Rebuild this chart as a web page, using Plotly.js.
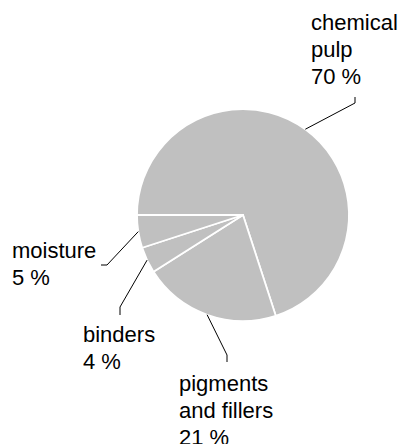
<!DOCTYPE html>
<html>
<head>
<meta charset="utf-8">
<script src="https://cdn.plot.ly/plotly-3.0.1.min.js"></script>
<style>html,body{margin:0;padding:0;background:#fff;}#chart{width:402px;height:444px;}</style>
</head>
<body>
<div id="chart"></div>
<script>
// Data
const categories = ["chemical pulp", "pigments and fillers", "binders", "moisture"];
const shares = [70, 21, 4, 5];
const labelLines = [["chemical", "pulp", "70 %"], ["pigments", "and fillers", "21 %"], ["binders", "4 %"], ["moisture", "5 %"]];

// Layout constants (pixels)
const W = 402, H = 444;
const CX = 243, CY = 215, R = 106;
const ROTATION = 270; // start at 9 o'clock, clockwise
const LINE_H = 27;
// label text box top-left and leader elbow (pixel positions for each label)
const labelPos = [
  {tx: 310, ty: 9,   ex: 355, ey: 103, kx: 355, ky: 97},
  {tx: 178, ty: 370, ex: 227, ey: 355, kx: 227, ky: 362},
  {tx: 82,  ty: 321, ex: 120, ey: 307, kx: 120, ky: 315},
  {tx: 11,  ty: 237, ex: 107, ey: 265, kx: 101, ky: 265}
];

const px = x => x / W;
const py = y => 1 - y / H;

const total = shares.reduce((a, b) => a + b, 0);
let cum = 0;
const shapes = [];
const annotations = [];
shares.forEach((v, i) => {
  const mid = ROTATION + (cum + v / 2) / total * 360;
  cum += v;
  const a = mid * Math.PI / 180;
  const sx = CX + R * Math.sin(a);
  const sy = CY - R * Math.cos(a);
  const p = labelPos[i];
  shapes.push({
    type: 'path', xref: 'paper', yref: 'paper',
    path: `M${px(sx)},${py(sy)} L${px(p.ex)},${py(p.ey)} L${px(p.kx)},${py(p.ky)}`,
    line: {color: '#000', width: 1}
  });
  labelLines[i].forEach((t, k) => {
    annotations.push({
      xref: 'paper', yref: 'paper', x: px(p.tx), y: py(p.ty + k * LINE_H),
      xanchor: 'left', yanchor: 'top', align: 'left', showarrow: false,
      text: t, borderpad: 0,
      font: {family: 'Liberation Sans, Arial, sans-serif', size: 22, color: '#000'}
    });
  });
});

const data = [{
  type: 'pie',
  labels: categories,
  values: shares,
  sort: false,
  direction: 'clockwise',
  rotation: ROTATION,
  textinfo: 'none',
  hoverinfo: 'label+percent',
  marker: {colors: categories.map(() => 'rgb(192,192,192)'), line: {color: '#fff', width: 1.8}},
  domain: {x: [(CX - R) / W, (CX + R) / W], y: [py(CY + R), py(CY - R)]},
  showlegend: false
}];

const layout = {
  width: W, height: H,
  margin: {l: 0, r: 0, t: 0, b: 0},
  paper_bgcolor: '#fff',
  plot_bgcolor: '#fff',
  showlegend: false,
  shapes: shapes,
  annotations: annotations
};

Plotly.newPlot('chart', data, layout, {displayModeBar: false, staticPlot: true});
</script>
</body>
</html>
